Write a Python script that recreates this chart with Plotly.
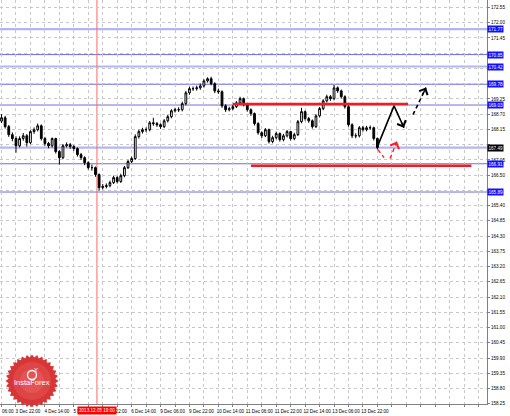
import numpy as np
import plotly.graph_objects as go

# 2-hour candles, x = trading hour index (0 = 3 Dec 22:00, weekend removed)
bar_hours = list(range(-8, 201, 2))

opens = [168.45, 168.57, 168.25, 167.96, 167.82, 167.56, 167.82, 167.92, 167.67, 168.07,
         168.14, 168.28, 167.82, 167.64, 167.56, 167.82, 167.35, 167.13, 167.56, 167.60,
         167.53, 167.46, 167.24, 167.13, 166.95, 166.77, 166.77, 166.52, 166.05, 166.09,
         166.12, 166.23, 166.41, 166.27, 166.48, 166.77, 166.99, 167.10, 167.89, 168.07,
         168.14, 168.14, 168.39, 168.36, 168.32, 168.25, 168.46, 168.61, 168.82, 168.86,
         168.86, 169.08, 169.47, 169.62, 169.62, 169.65, 169.72, 169.90, 169.98, 169.80,
         169.54, 169.51, 169.00, 168.86, 168.90, 168.97, 169.11, 169.26, 169.04, 168.86,
         168.72, 168.36, 168.03, 167.92, 168.14, 167.71, 167.85, 168.00, 167.78, 167.92,
         168.07, 167.82, 167.96, 168.43, 168.79, 168.54, 168.46, 168.25, 168.64, 168.90,
         169.18, 169.33, 169.26, 169.65, 169.54, 169.33, 168.97, 168.32, 167.92, 167.92,
         168.21, 168.14, 168.21, 168.21, 167.82]
highs = [168.70, 168.64, 168.31, 168.04, 167.90, 167.90, 168.02, 167.98, 168.12, 168.22,
         168.36, 168.33, 167.88, 167.70, 167.86, 167.85, 167.40, 167.62, 167.68, 167.66,
         167.58, 167.50, 167.30, 167.18, 167.00, 166.88, 166.81, 166.56, 166.18, 166.20,
         166.30, 166.48, 166.46, 166.55, 166.83, 167.05, 167.17, 167.97, 168.14, 168.21,
         168.22, 168.45, 168.57, 168.42, 168.37, 168.52, 168.68, 168.88, 168.93, 168.95,
         169.15, 169.54, 169.69, 169.70, 169.73, 169.80, 169.96, 170.03, 170.05, 169.85,
         169.62, 169.56, 169.06, 168.97, 169.04, 169.17, 169.33, 169.30, 169.09, 168.91,
         168.76, 168.41, 168.08, 168.20, 168.18, 167.92, 168.07, 168.04, 167.99, 168.13,
         168.10, 168.03, 168.49, 168.93, 168.83, 168.60, 168.51, 168.70, 168.96, 169.24,
         169.40, 169.39, 169.76, 169.70, 169.59, 169.38, 169.02, 168.37, 168.01, 168.27,
         168.28, 168.28, 168.29, 168.25, 167.86]
lows = [168.38, 168.18, 167.88, 167.72, 167.31, 167.50, 167.74, 167.53, 167.62, 167.99,
        168.08, 167.75, 167.56, 167.47, 167.50, 167.28, 166.88, 167.08, 167.50, 167.45,
        167.38, 167.17, 167.05, 166.86, 166.70, 166.66, 166.44, 165.94, 165.98, 166.02,
        166.06, 166.18, 166.20, 166.22, 166.42, 166.72, 166.93, 167.05, 167.82, 168.00,
        168.05, 168.08, 168.28, 168.24, 168.17, 168.20, 168.40, 168.55, 168.76, 168.78,
        168.80, 169.02, 169.40, 169.54, 169.55, 169.58, 169.66, 169.84, 169.74, 169.46,
        169.43, 168.93, 168.78, 168.80, 168.84, 168.92, 169.05, 168.98, 168.79, 168.64,
        168.29, 167.96, 167.84, 167.87, 167.64, 167.65, 167.79, 167.71, 167.72, 167.86,
        167.75, 167.76, 167.91, 168.37, 168.47, 168.39, 168.18, 168.20, 168.58, 168.84,
        169.12, 169.18, 169.20, 169.47, 169.26, 168.90, 168.25, 167.84, 167.83, 167.86,
        168.07, 168.08, 168.13, 167.75, 167.42]
closes = [168.57, 168.25, 167.96, 167.82, 167.56, 167.82, 167.92, 167.67, 168.07, 168.14,
          168.28, 167.82, 167.64, 167.56, 167.82, 167.35, 167.13, 167.56, 167.60, 167.53,
          167.46, 167.24, 167.13, 166.95, 166.77, 166.77, 166.52, 166.05, 166.09, 166.12,
          166.23, 166.41, 166.27, 166.48, 166.77, 166.99, 167.10, 167.89, 168.07, 168.14,
          168.14, 168.39, 168.36, 168.32, 168.25, 168.46, 168.61, 168.82, 168.86, 168.86,
          169.08, 169.47, 169.62, 169.62, 169.65, 169.72, 169.90, 169.98, 169.80, 169.54,
          169.51, 169.00, 168.86, 168.90, 168.97, 169.11, 169.26, 169.04, 168.86, 168.72,
          168.36, 168.03, 167.92, 168.14, 167.71, 167.85, 168.00, 167.78, 167.92, 168.07,
          167.82, 167.96, 168.43, 168.79, 168.54, 168.46, 168.25, 168.64, 168.90, 169.18,
          169.33, 169.26, 169.65, 169.54, 169.33, 168.97, 168.32, 167.92, 167.92, 168.21,
          168.14, 168.21, 168.21, 167.82, 167.49]

xtick_labels = ["3 Dec 22:00", "4 Dec 14:00", "5 Dec 06:00", "5 Dec 22:00", "6 Dec 14:00",
                "9 Dec 06:00", "9 Dec 22:00", "10 Dec 14:00", "11 Dec 06:00", "11 Dec 22:00",
                "12 Dec 14:00", "13 Dec 06:00", "13 Dec 22:00"]

# horizontal levels
levels_light = [171.77, 170.42]
levels_dark = [170.85, 169.78, 169.03, 166.91, 165.89]
bid_price = 167.49
hidden_ticks = [170.90, 170.35, 169.80, 167.60, 165.95]   # covered by the level boxes

# analyst drawings (hour index, price)
resistance = 169.07
resistance_span = [120, 217]
support = 166.84
support_span = [130, 252]
cursor_hour = 44.8
cursor_label = "2013.12.05 19:00"

main_path_x = [200.0, 209.2, 214.7]
main_path_y = [167.53, 169.00, 168.21]
next_path_x = [219.7, 226.9]
next_path_y = [168.68, 169.66]
alt_down_x = [200.3, 203.7]
alt_down_y = [167.42, 167.13]
alt_up_x = [207.0, 210.8]
alt_up_y = [167.10, 167.71]

FONT = "Liberation Sans"
PLOT_W, PLOT_H = 487, 404

fig = go.Figure()

fig.add_trace(go.Candlestick(
    x=bar_hours, open=opens, high=highs, low=lows, close=closes,
    increasing=dict(line=dict(color="black", width=1), fillcolor="white"),
    decreasing=dict(line=dict(color="black", width=1), fillcolor="black"),
    whiskerwidth=0, hoverinfo="skip", showlegend=False,
))

# forecast arrows
fig.add_trace(go.Scatter(x=main_path_x, y=main_path_y, mode="lines",
                         line=dict(color="black", width=1.6), hoverinfo="skip", showlegend=False))
fig.add_trace(go.Scatter(x=next_path_x, y=next_path_y, mode="lines",
                         line=dict(color="black", width=1.6, dash="4px,3px"), hoverinfo="skip", showlegend=False))
fig.add_trace(go.Scatter(x=alt_down_x, y=alt_down_y, mode="lines",
                         line=dict(color="#ff2020", width=1.4, dash="4px,3px"), hoverinfo="skip", showlegend=False))
fig.add_trace(go.Scatter(x=alt_up_x, y=alt_up_y, mode="lines",
                         line=dict(color="#ff2020", width=1.4, dash="4px,3px"), hoverinfo="skip", showlegend=False))

for xs, ys, col in [(main_path_x, main_path_y, "black"), (next_path_x, next_path_y, "black"),
                    (alt_up_x, alt_up_y, "#ff2020")]:
    fig.add_annotation(x=xs[-1], y=ys[-1], ax=xs[-1] - (xs[-1] - xs[-2]) * 0.3,
                       ay=ys[-1] - (ys[-1] - ys[-2]) * 0.3, axref="x", ayref="y",
                       text="", showarrow=True, arrowhead=4, arrowsize=1.3,
                       arrowwidth=1.4, arrowcolor=col)

# levels
for p in levels_light + [bid_price]:
    fig.add_shape(type="line", xref="paper", x0=0, x1=1, y0=p, y1=p,
                  line=dict(color="#b4b6f4", width=2.2), layer="below")
for p in levels_dark:
    fig.add_shape(type="line", xref="paper", x0=0, x1=1, y0=p, y1=p,
                  line=dict(color="#6c6ce6", width=1), layer="below")

fig.add_shape(type="line", x0=cursor_hour, x1=cursor_hour, yref="paper", y0=0, y1=1,
              line=dict(color="#ff6464", width=1), layer="below")

fig.add_shape(type="line", x0=resistance_span[0], x1=resistance_span[1], y0=resistance, y1=resistance,
              line=dict(color="#ee1c24", width=2.5))
fig.add_shape(type="line", x0=support_span[0], x1=support_span[1], y0=support, y1=support,
              line=dict(color="#ee1c24", width=2.5))

# price labels on the axis
for p in levels_light + levels_dark:
    fig.add_annotation(xref="paper", x=1, xanchor="left", y=p, text=f"{p:.2f}", showarrow=False,
                       bgcolor="#1010ff", borderpad=0.5,
                       font=dict(family=FONT, size=4.6, color="white"))
fig.add_annotation(xref="paper", x=1, xanchor="left", y=bid_price, text=f"{bid_price:.2f}",
                   showarrow=False, bgcolor="black", borderpad=0.5,
                   font=dict(family=FONT, size=4.6, color="white"))

fig.add_annotation(x=cursor_hour, yref="paper", y=0, yanchor="top", yshift=-1.5,
                   text=cursor_label, showarrow=False, bgcolor="#ff0000", borderpad=1,
                   font=dict(family=FONT, size=4.6, color="white"))
fig.add_annotation(xref="paper", x=0, xanchor="left", yref="paper", y=0, yanchor="top", yshift=-2.5,
                   text="06:00", showarrow=False, font=dict(family=FONT, size=4.6, color="black"))

# InstaForex badge
cx, cy = 32, 381
ang = np.linspace(0, 2 * np.pi, 64, endpoint=False)
rad = np.where(np.arange(64) % 2 == 0, 26.5, 23.5)
px = cx + rad * np.cos(ang)
py = cy + rad * np.sin(ang)
path = "M " + " L ".join(f"{a / PLOT_W:.5f},{(PLOT_H - b) / PLOT_H:.5f}" for a, b in zip(px, py)) + " Z"
fig.add_shape(type="path", xref="paper", yref="paper", path=path,
              fillcolor="#d83636", line=dict(width=0))
for r, col in [(19, "#de4545"), (12, "#e45454")]:
    fig.add_shape(type="circle", xref="paper", yref="paper",
                  x0=(cx - r) / PLOT_W, x1=(cx + r) / PLOT_W,
                  y0=(PLOT_H - cy - r) / PLOT_H, y1=(PLOT_H - cy + r) / PLOT_H,
                  fillcolor=col, line=dict(width=0))
fig.add_shape(type="circle", xref="paper", yref="paper",
              x0=(cx - 4.5) / PLOT_W, x1=(cx + 4.5) / PLOT_W,
              y0=(PLOT_H - 375 - 4.5) / PLOT_H, y1=(PLOT_H - 375 + 4.5) / PLOT_H,
              line=dict(color="white", width=1.3))
fig.add_annotation(xref="paper", yref="paper", x=cx / PLOT_W, y=(PLOT_H - 375) / PLOT_H,
                   text="Y", showarrow=False, font=dict(family=FONT, size=6, color="white"))
fig.add_annotation(xref="paper", yref="paper", x=cx / PLOT_W, y=(PLOT_H - 389) / PLOT_H,
                   text="InstaForex", showarrow=False, xanchor="center",
                   font=dict(family=FONT, size=7.5, color="white"))

# axes
xgrid = list(range(-8, 257, 8))
xtext = [xtick_labels[h // 16] if h >= 0 and h % 16 == 0 and h // 16 < len(xtick_labels) else ""
         for h in xgrid]
ytick_vals = [round(158.25 + 0.55 * i, 2) for i in range(27)]
ytick_text = ["" if v in hidden_ticks else f"{v:.2f}" for v in ytick_vals]

fig.update_xaxes(range=[-8.85, 260.65], tickvals=xgrid, ticktext=xtext, tickangle=0,
                 showgrid=True, gridcolor="#c8c8c8", griddash="dot", gridwidth=1,
                 ticks="outside", ticklen=2, tickcolor="#808080", ticklabelshift=12,
                 tickfont=dict(family=FONT, size=4.6, color="black"),
                 showline=True, linecolor="#808080", linewidth=1, zeroline=False,
                 rangeslider_visible=False, fixedrange=True, automargin=False)
fig.update_yaxes(side="right", range=[158.24, 172.82], tickvals=ytick_vals, ticktext=ytick_text,
                 showgrid=True, gridcolor="#c8c8c8", griddash="dot", gridwidth=1,
                 ticks="outside", ticklen=2, tickcolor="#808080",
                 tickfont=dict(family=FONT, size=4.6, color="black"),
                 showline=True, linecolor="#808080", linewidth=1, zeroline=False,
                 fixedrange=True, automargin=False)

fig.update_layout(width=510, height=416, margin=dict(l=0, r=23, t=0, b=12, autoexpand=False),
                  paper_bgcolor="white", plot_bgcolor="white", showlegend=False)

# the page body has a default 8px margin; the chart must sit at the window's corner
fig.write_html("out.html", config={"displayModeBar": False},
               post_script="document.body.style.margin='0';")
